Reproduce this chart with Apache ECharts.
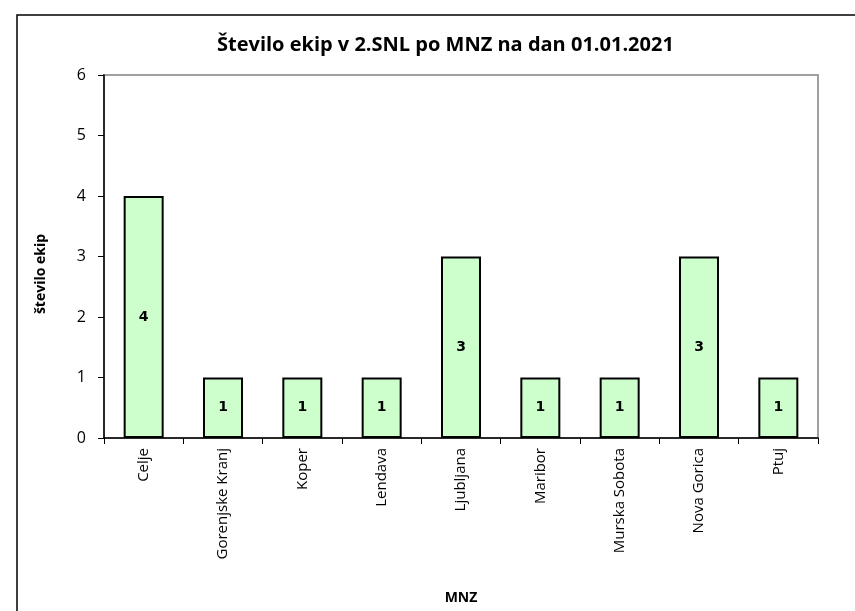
<!DOCTYPE html>
<html>
<head>
<meta charset="utf-8">
<script src="https://cdn.jsdelivr.net/npm/echarts@6/dist/echarts.min.js"></script>
<style>
html,body{margin:0;padding:0;background:#fff;}
#c{width:855px;height:611px;}
</style>
</head>
<body>
<div id="c"></div>
<script>
const categories = ['Celje','Gorenjske Kranj','Koper','Lendava','Ljubljana','Maribor','Murska Sobota','Nova Gorica','Ptuj'];
const values = [4,1,1,1,3,1,1,3,1];
const yTicks = [0,1,2,3,4,5,6];

const FF = '"Open Sans"';
const chart = echarts.init(document.getElementById('c'), null, {renderer:'canvas'});
chart.setOption({
  animation:false,
  backgroundColor:'#fff',
  graphic:[
    {type:'rect', shape:{x:17,y:15,width:900,height:700}, style:{fill:'none',stroke:'#000',lineWidth:1.5}, z:-1},
    {type:'text', x:41, y:274, rotation:Math.PI/2, style:{text:'število ekip', fontFamily:FF, fontWeight:'bold', fontSize:14, fill:'#000', textAlign:'center', textVerticalAlign:'middle'}}
  ],
  title:{text:'Število ekip v 2.SNL po MNZ na dan 01.01.2021', left:212, top:30, textStyle:{fontFamily:FF, fontWeight:'bold', fontSize:20, color:'#000'}},
  grid:{left:104, top:75, right:37, bottom:173, show:true, borderColor:'#a0a0a0', borderWidth:2},
  xAxis:{type:'category', data:categories, name:'MNZ', nameLocation:'middle', nameGap:153,
    nameTextStyle:{fontFamily:FF, fontWeight:'bold', fontSize:14, color:'#000'},
    axisLine:{lineStyle:{color:'#000', width:1.5}},
    axisTick:{show:true, interval:0, length:6, lineStyle:{color:'#000'}},
    axisLabel:{rotate:90, interval:0, margin:10, fontFamily:FF, fontSize:15, color:'#000'}},
  yAxis:{type:'value', min:0, max:6, interval:1,
    axisLine:{show:true, lineStyle:{color:'#000', width:1.5}},
    axisTick:{show:true, length:6, lineStyle:{color:'#000'}},
    splitLine:{show:false},
    axisLabel:{margin:18, fontFamily:FF, fontSize:16, color:'#000', formatter:function(v){return yTicks.indexOf(v)>=0?String(v):'';}}},
  series:[{type:'bar', data:values, barWidth:40,
    itemStyle:{color:'#CCFFCC', borderColor:'#000', borderWidth:2},
    label:{show:true, position:'inside', fontFamily:'DejaVu Sans', fontWeight:'bold', fontSize:14, color:'#000'}}]
});
</script>
</body>
</html>
